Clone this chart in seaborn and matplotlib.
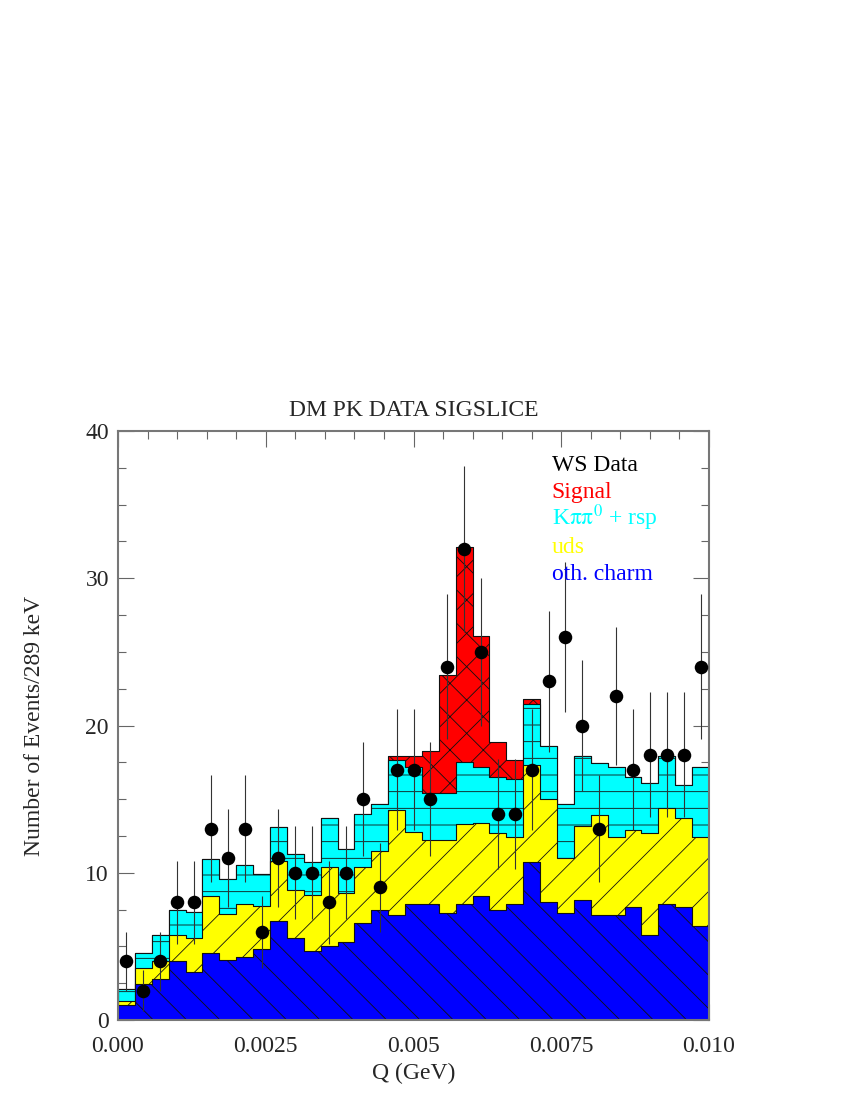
import matplotlib
matplotlib.use('Agg')
import matplotlib.pyplot as plt
import numpy as np
import pandas as pd
import seaborn as sns
from matplotlib.ticker import MultipleLocator

# 35 bins over Q = 0 .. 0.010 GeV
N_BINS = 35
Q_MAX = 0.010

# WS data (events per bin)
ws_data = [4, 2, 4, 8, 8, 13, 11, 13, 6, 11, 10, 10, 8, 10, 15, 9, 17, 17, 15, 24,
           32, 25, 14, 14, 17, 23, 26, 20, 13, 22, 17, 18, 18, 18, 24]

# MC components (stacked from the bottom)
oth_charm = [1.0, 2.45, 2.8, 4.0, 3.25, 4.55, 4.1, 4.3, 4.85, 6.7, 5.55, 4.7, 5.05, 5.3, 6.6,
             7.45, 7.15, 7.9, 7.9, 7.25, 7.9, 8.45, 7.45, 7.9, 10.7, 8.0, 7.3, 8.15, 7.15, 7.1,
             7.65, 5.8, 7.9, 7.65, 6.35]
uds = [0.3, 1.05, 1.2, 1.75, 2.35, 3.85, 3.1, 3.55, 2.9, 4.1, 3.3, 3.8, 5.35, 3.3, 3.8,
       4.0, 7.1, 4.9, 4.3, 4.95, 5.4, 4.9, 5.25, 4.5, 6.6, 7.0, 3.7, 5.0, 6.8, 5.3,
       5.25, 6.9, 6.5, 6.05, 6.05]
kpipi0_rsp = [0.8, 1.05, 1.8, 1.7, 1.75, 2.5, 2.4, 2.65, 2.15, 2.3, 2.45, 2.25, 3.3, 3.0, 3.6,
              3.2, 3.4, 4.4, 3.2, 3.2, 4.25, 3.85, 3.8, 3.95, 4.15, 3.6, 3.7, 4.8, 3.5, 4.8,
              3.6, 3.4, 3.5, 2.25, 4.75]
signal = [0, 0, 0, 0, 0, 0, 0, 0, 0, 0, 0, 0, 0, 0, 0,
          0, 0.3, 0.7, 2.9, 8.05, 14.55, 8.85, 2.35, 1.3, 0.35, 0, 0, 0, 0, 0,
          0, 0, 0, 0, 0]

legend_labels = ['WS Data', 'Signal', r'K$\mathrm{\pi\pi}^0$ + rsp', 'uds', 'oth. charm']
legend_colors = ['black', '#FF0000', '#00FFFF', '#FFFF00', '#0000FF']

edges = np.linspace(0, Q_MAX, N_BINS + 1)
df = pd.DataFrame({
    'q': 0.5 * (edges[:-1] + edges[1:]),
    'n': ws_data,
    'charm': oth_charm,
    'uds': uds,
    'kpp': kpipi0_rsp,
    'sig': signal,
})
df['t_uds'] = df['charm'] + df['uds']
df['t_kpp'] = df['t_uds'] + df['kpp']
df['t_sig'] = df['t_kpp'] + df['sig']

sns.set_theme(style='ticks')
plt.rcParams['font.family'] = ['Liberation Serif', 'DejaVu Serif']
plt.rcParams['mathtext.fontset'] = 'stix'
plt.rcParams['hatch.color'] = 'black'
plt.rcParams['hatch.linewidth'] = 0.6

fig = plt.figure(figsize=(8.5, 11), dpi=100)
ax = fig.add_axes([118 / 850, 80 / 1100, 591 / 850, 589 / 1100])

# draw cumulative layers from the top down, each one covers the next
layers = [('t_sig', '#FF0000', 'x'),
          ('t_kpp', '#00FFFF', '-'),
          ('t_uds', '#FFFF00', '/'),
          ('charm', '#0000FF', '\\')]
for col, c, h in layers:
    sns.histplot(data=df, x='q', weights=col, bins=N_BINS, binrange=(0, Q_MAX),
                 element='step', fill=True, color=c, alpha=1, edgecolor='#111111',
                 linewidth=0.8, hatch=h, ax=ax)

ax.errorbar(df['q'], df['n'], yerr=np.sqrt(df['n']), fmt='none',
            ecolor='#333333', elinewidth=0.8, zorder=3)
sns.scatterplot(data=df, x='q', y='n', color='black', s=95, linewidth=0, zorder=4, ax=ax)

ax.set_xlim(0, Q_MAX)
ax.set_ylim(0, 40)
ax.set_xticks([0, 0.0025, 0.005, 0.0075, 0.010])
ax.set_xticklabels(['0.000', '0.0025', '0.005', '0.0075', '0.010'])
ax.set_yticks([0, 10, 20, 30, 40])
ax.xaxis.set_minor_locator(MultipleLocator(0.0005))
ax.yaxis.set_minor_locator(MultipleLocator(2.5))
ax.tick_params(which='both', direction='in', top=True, right=True, color='#666666',
               width=0.8, labelsize=17)
ax.tick_params(which='major', length=11.5)
ax.tick_params(which='minor', length=6)
ax.tick_params(axis='x', pad=11.5)
ax.tick_params(axis='y', pad=6.5)
for sp in ax.spines.values():
    sp.set_color('#777777')
    sp.set_linewidth(1.5)

ax.set_title('DM PK DATA SIGSLICE', fontsize=17, pad=11)
ax.set_xlabel('Q (GeV)', fontsize=17)
ax.set_ylabel('Number of Events/289 keV', fontsize=17)
ax.xaxis.set_label_coords(0.5, -0.072)
ax.yaxis.set_label_coords(-0.123, 0.5)

y0 = 0.9326
for i, (lab, c) in enumerate(zip(legend_labels, legend_colors)):
    ax.text(0.734, y0 - i * 0.0465, lab, color=c, fontsize=17, va='baseline',
            transform=ax.transAxes)

fig.savefig('out.png', dpi=100)
